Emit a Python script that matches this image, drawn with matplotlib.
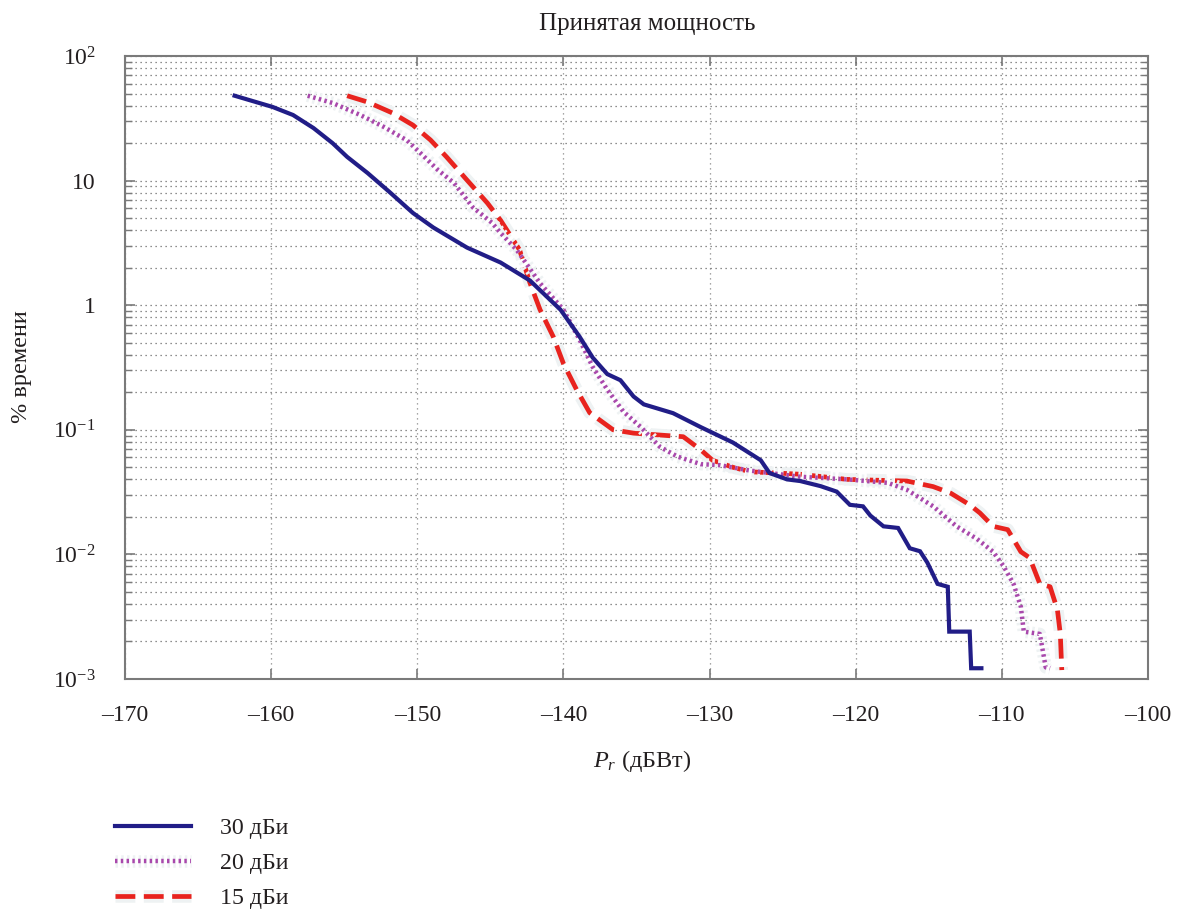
import matplotlib
matplotlib.use('Agg')
import matplotlib.pyplot as plt
import matplotlib.patheffects as pe
from matplotlib.ticker import LogLocator, NullFormatter, FixedLocator

plt.rcParams['font.family'] = ['Liberation Serif', 'DejaVu Serif']
plt.rcParams['mathtext.fontset'] = 'custom'
plt.rcParams['mathtext.rm'] = 'Liberation Serif'
plt.rcParams['mathtext.it'] = 'Liberation Serif:italic'

# received power (dBW) vs percentage of time, three antenna gains
p_30 = [-162.5, -159.9, -158.5, -157.1, -155.8, -154.8, -153.4, -151.9, -150.3, -148.9,
        -146.6, -144.3, -142.3, -140.2, -138.9, -138.0, -137.0, -136.1, -135.2, -134.5,
        -132.5, -130.6, -128.4, -126.5, -125.9, -124.7, -123.8, -122.4, -121.3, -120.4,
        -119.5, -119.0, -118.1, -117.1, -116.3, -115.6, -115.1, -114.4, -113.7, -113.6,
        -112.2, -112.1, -111.4]
t_30 = [48, 39, 33.6, 26.4, 20, 15.5, 11.5, 8.1, 5.5, 4.2,
        2.9, 2.2, 1.58, 0.92, 0.56, 0.38, 0.28, 0.25, 0.185, 0.16,
        0.136, 0.105, 0.079, 0.057, 0.045, 0.040, 0.0388, 0.0353, 0.0319, 0.025,
        0.0243, 0.0205, 0.0168, 0.0163, 0.0112, 0.0106, 0.0086, 0.0058, 0.0055, 0.0024,
        0.0024, 0.00122, 0.00122]

p_20 = [-157.5, -155.8, -153.9, -152.3, -150.7, -149.8, -148.6, -147.5, -146.2, -144.9,
        -144.3, -143.2, -141.6, -140.0, -138.9, -138.0, -137.0, -135.9, -134.7, -133.4,
        -132.2, -130.6, -129.3, -127.2, -123.8, -120.6, -117.8, -116.5, -114.7, -113.1,
        -111.7, -110.6, -109.9, -109.2, -108.7, -108.5, -107.4, -107.0, -106.7]
t_20 = [48, 42, 33.6, 27, 21, 16.7, 12.2, 9.6, 6.1, 4.6,
        3.8, 2.78, 1.5, 0.92, 0.53, 0.32, 0.21, 0.14, 0.105, 0.073,
        0.061, 0.053, 0.052, 0.047, 0.042, 0.040, 0.0375, 0.033, 0.0243, 0.0168,
        0.0133, 0.0105, 0.0081, 0.0058, 0.0038, 0.0024, 0.0023, 0.00124, 0.00122]

p_15 = [-154.8, -153.4, -151.7, -150.3, -149.1, -148.0, -146.6, -145.2, -144.3, -143.0,
        -142.3, -141.6, -140.7, -140.0, -139.1, -138.2, -136.6, -135.2, -131.8, -130.6,
        -129.8, -128.4, -127.2, -125.4, -123.8, -120.6, -116.5, -114.7, -113.5, -112.2,
        -111.5, -110.6, -109.6, -108.7, -108.1, -107.4, -106.7, -106.2, -106.0, -105.9]
t_15 = [48, 42.7, 34.9, 27.9, 21.2, 15.5, 10.1, 6.6, 4.8, 2.78,
        1.52, 0.92, 0.56, 0.34, 0.21, 0.137, 0.10, 0.094, 0.088, 0.069,
        0.057, 0.050, 0.046, 0.045, 0.044, 0.040, 0.0388, 0.035, 0.031, 0.025,
        0.0215, 0.0168, 0.0158, 0.0105, 0.0094, 0.0058, 0.0055, 0.0036, 0.0023, 0.00118]

labels = ['30 дБи', '20 дБи', '15 дБи']
x_ticks = [-170, -160, -150, -140, -130, -120, -110, -100]
x_tick_labels = ['\u2013' + str(abs(v)) for v in x_ticks]
y_ticks = [1e-3, 1e-2, 1e-1, 1, 10, 100]
y_tick_labels = ['$10^{-3}$', '$10^{-2}$', '$10^{-1}$', '1', '10', '$10^{2}$']

W, H = 1178, 911
fig = plt.figure(figsize=(W / 100, H / 100), dpi=100)
ax = fig.add_axes([125 / W, 1 - 679 / H, 1023 / W, 623 / H])

halo = [pe.Stroke(linewidth=9, foreground='#eef2f3'), pe.Normal()]
l30, = ax.plot(p_30, t_30, color='#211d87', lw=3.0, solid_joinstyle='miter', zorder=5)
l20, = ax.plot(p_20, t_20, color='#a948ac', lw=3.2, linestyle=(0, (0.55, 0.75)),
               path_effects=halo, zorder=4)
l15, = ax.plot(p_15, t_15, color='#e8231e', lw=3.4, linestyle=(0, (4.2, 1.8)),
               path_effects=halo, zorder=3)

ax.set_yscale('log')
ax.set_xlim(-170, -100)
ax.set_ylim(1e-3, 1e2)

ax.set_xticks(x_ticks)
ax.set_xticklabels(x_tick_labels)
ax.yaxis.set_major_locator(FixedLocator(y_ticks))
ax.set_yticklabels(y_tick_labels)
ax.yaxis.set_minor_locator(LogLocator(base=10, subs=range(2, 10)))
ax.yaxis.set_minor_formatter(NullFormatter())

ax.tick_params(which='both', direction='in', top=True, right=True, colors='#7a7a7a',
               labelcolor='#231f20', labelsize=17)
ax.tick_params(axis='x', which='major', length=7, width=1.2, pad=19)
ax.tick_params(axis='y', which='major', length=7, width=1.2, pad=21)
ax.tick_params(axis='y', which='minor', length=5, width=1.0)

ax.grid(True, which='major', axis='x', color='#8a8a8a', linestyle=(0, (1, 3)), lw=0.9)
ax.grid(True, which='both', axis='y', color='#6a6a6a', linestyle=(0, (1, 3)), lw=0.9)
for s in ax.spines.values():
    s.set_color('#7a7a7a')
    s.set_linewidth(1.5)

fig.text(647 / W, 1 - 30 / H, 'Принятая мощность', ha='center', va='baseline',
         fontsize=18, color='#231f20')
fig.text(22 / W, 1 - 367 / H, '% времени', ha='center', va='center', rotation=90,
         fontsize=17.5, color='#231f20')
fig.text(642 / W, 1 - 767 / H, '$P_r$ (дБВт)', ha='center', va='baseline',
         fontsize=17.5, color='#231f20')

fig.legend([l30, l20, l15], labels, loc='upper left', bbox_to_anchor=(105 / W, 1 - 808 / H),
           frameon=False, fontsize=17.2, handlelength=3.2, handletextpad=1.2,
           labelspacing=0.56, borderaxespad=0, labelcolor='#231f20')

fig.savefig('out.png', dpi=100)
